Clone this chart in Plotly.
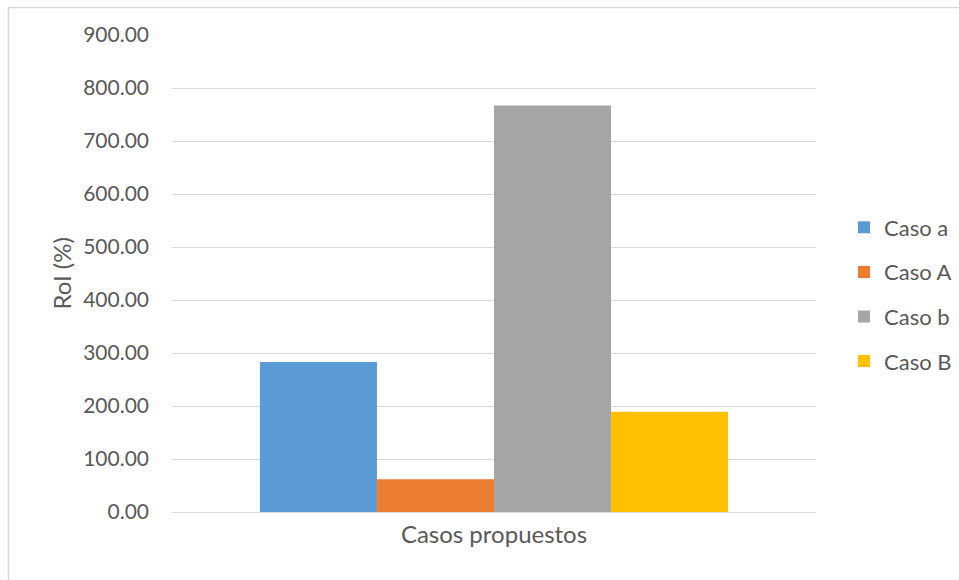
import plotly.graph_objects as go

# Return on investment per proposed case
category = ["Casos propuestos"]
series_names = ["Caso a", "Caso A", "Caso b", "Caso B"]
roi_values = [283.0, 62.0, 767.0, 189.0]
series_colors = ["#5B9BD5", "#ED7D31", "#A5A5A5", "#FFC000"]
y_ticks = [0, 100, 200, 300, 400, 500, 600, 700, 800, 900]

W, H = 959, 580
L, R, T, B = 172, 143, 35, 68
plot_w = W - L - R
plot_h = H - T - B

text_color = "#595959"
grid_color = "#D9D9D9"
font_family = "Lato, Calibri, 'Open Sans', sans-serif"

fig = go.Figure()
for i, (name, val, col) in enumerate(zip(series_names, roi_values, series_colors)):
    fig.add_trace(go.Bar(
        x=category, y=[val], name=name,
        marker=dict(color=col, line=dict(width=0)),
        legendgroup=f"g{i}",
    ))


def px_x(px):
    return (px - L) / plot_w


def px_y(py):
    return (H - B - py) / plot_h


fig.update_layout(
    width=W, height=H,
    margin=dict(l=L, r=R, t=T, b=B, autoexpand=False),
    paper_bgcolor="white", plot_bgcolor="white",
    barmode="group", bargap=0.273, bargroupgap=0,
    font=dict(family=font_family, size=20, color=text_color),
    showlegend=True,
    legend=dict(
        x=px_x(844), y=px_y(294.5), xanchor="left", yanchor="middle",
        font=dict(family=font_family, size=22, color=text_color),
        tracegroupgap=13, traceorder="grouped",
        bgcolor="rgba(0,0,0,0)", itemwidth=30,
    ),
    xaxis=dict(
        showgrid=False, showline=False, zeroline=False,
        ticks="", tickfont=dict(size=24, color=text_color),
        ticklabelstandoff=6,
    ),
    yaxis=dict(
        range=[0, 900], tickvals=y_ticks, tickformat=".2f",
        showgrid=True, gridcolor=grid_color, gridwidth=1,
        zeroline=True, zerolinecolor=grid_color, zerolinewidth=1,
        showline=False, ticks="",
        tickfont=dict(size=21, color=text_color),
        ticklabelstandoff=22,
    ),
    annotations=[dict(
        text="RoI (%)", textangle=-90, showarrow=False,
        xref="paper", yref="paper", x=px_x(61), y=px_y(273.5),
        xanchor="center", yanchor="middle",
        font=dict(family=font_family, size=24, color=text_color),
    )],
    shapes=[
        dict(type="line", xref="paper", yref="paper",
             x0=px_x(8.5), x1=px_x(8.5), y0=px_y(7.5), y1=px_y(600),
             line=dict(color=grid_color, width=1.5)),
        dict(type="line", xref="paper", yref="paper",
             x0=px_x(8.5), x1=px_x(1000), y0=px_y(7.5), y1=px_y(7.5),
             line=dict(color=grid_color, width=1.5)),
    ],
)

fig.write_html("out.html")
